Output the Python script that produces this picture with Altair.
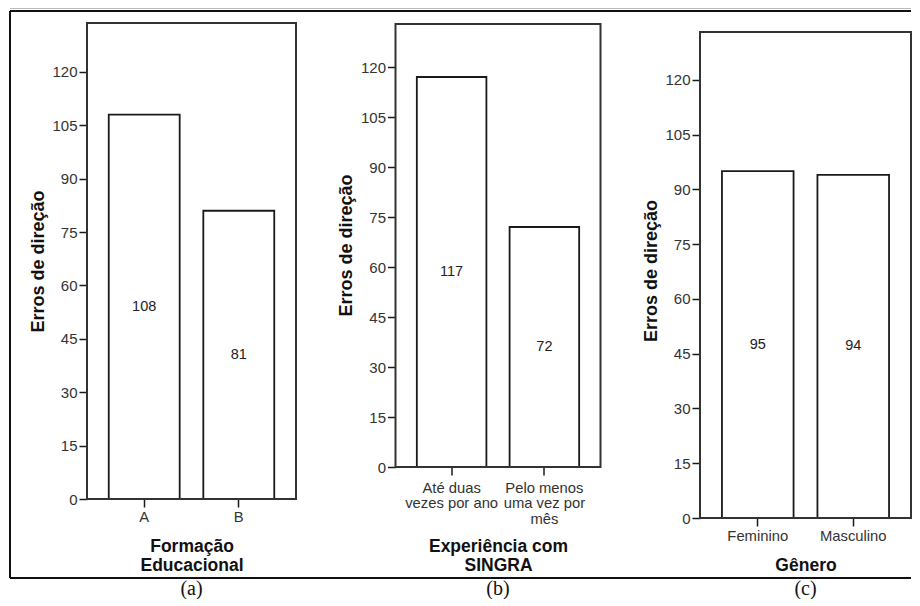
import altair as alt
import pandas as pd

# ---- data ----
cat_a = ["A", "B"]
val_a = [108, 81]
cat_b = ["Até duas vezes por ano", "Pelo menos uma vez por mês"]
lines_b = [["Até duas", "vezes por ano"], ["Pelo menos", "uma vez por", "mês"]]
val_b = [117, 72]
cat_c = ["Feminino", "Masculino"]
val_c = [95, 94]
y_ticks = [0, 15, 30, 45, 60, 75, 90, 105, 120]
y_title = "Erros de direção"
x_title_a = ["Formação", "Educacional"]
x_title_b = ["Experiência com", "SINGRA"]
x_title_c = "Gênero"
tags = ["(a)", "(b)", "(c)"]

FONT = "Liberation Sans"
SERIF = "Liberation Serif"
INK = "#1a1a1a"


def panel(cats, vals, W, H, ymax, frame_top, xtitle, title_y, tag,
          label_expr=None, label_pad=2, extra=None):
    df = pd.DataFrame({"cat": cats, "v": vals})
    yscale = alt.Scale(domain=[0, ymax], nice=False, zero=True)
    xscale = alt.Scale(domain=cats, paddingInner=0.25, paddingOuter=0.23)
    xaxis_kw = dict(
        title=xtitle, labelAngle=0, tickSize=8, tickWidth=1.5, tickColor=INK,
        labelPadding=label_pad, domain=False, grid=False,
        labelFont=FONT, labelFontSize=14.8, labelColor="#333",
        labelLineHeight=15.5,
        titleFont=FONT, titleFontSize=17.5, titleFontWeight="bold",
        titleColor="#111", titleY=title_y, titleBaseline="alphabetic",
        titleLineHeight=18.5,
    )
    if label_expr:
        xaxis_kw["labelExpr"] = label_expr
    xaxis = alt.Axis(**xaxis_kw)
    yaxis = alt.Axis(
        title=y_title, values=y_ticks, tickSize=8, tickWidth=1.5,
        tickColor=INK, labelPadding=2, domain=False, grid=False,
        labelFont=FONT, labelFontSize=15, labelColor="#333",
        titleFont=FONT, titleFontSize=18, titleFontWeight="bold",
        titleColor="#111", titleX=-49, titleBaseline="middle", titleAngle=270,
    )
    base = alt.Chart(df)
    bars = base.mark_bar(fill="white", stroke=INK, strokeWidth=1.8).encode(
        x=alt.X("cat:N", scale=xscale, axis=xaxis, sort=cats),
        y=alt.Y("v:Q", scale=yscale, axis=yaxis),
    )
    labels = base.transform_calculate(mid="datum.v / 2").mark_text(
        font=FONT, fontSize=14.5, color="#222", baseline="middle"
    ).encode(
        x=alt.X("cat:N", scale=xscale, sort=cats),
        y=alt.Y("mid:Q", scale=yscale),
        text=alt.Text("v:Q"),
    )
    one = alt.Data(values=[{}])
    frame = alt.Chart(one).mark_rect(
        fill="white", fillOpacity=0, stroke="#333", strokeWidth=2
    ).encode(
        x=alt.value(0), x2=alt.value(W),
        y=alt.Y(datum=frame_top, type="quantitative", scale=yscale),
        y2=alt.datum(0),
    )
    tagtext = alt.Chart(one).mark_text(
        text=tag, font=SERIF, fontSize=20, color="#111", baseline="middle",
        align="center"
    ).encode(x=alt.value(W / 2), y=alt.value(566))
    layers = [bars, labels, frame, tagtext]
    if extra:
        layers += extra
    return alt.layer(*layers).properties(width=W, height=H)


# outer figure frame (decoration, drawn relative to panel a)
one = alt.Data(values=[{}])
outer = [
    alt.Chart(one).mark_rule(color="#bbbbbb", strokeWidth=1).encode(
        x=alt.value(-77), x2=alt.value(824), y=alt.value(-14.5)),
    alt.Chart(one).mark_rule(color="#111", strokeWidth=2).encode(
        x=alt.value(-77), x2=alt.value(824), y=alt.value(-12)),
    alt.Chart(one).mark_rule(color="#111", strokeWidth=2).encode(
        x=alt.value(-77), x2=alt.value(824), y=alt.value(555)),
    alt.Chart(one).mark_rule(color="#111", strokeWidth=2).encode(
        x=alt.value(-77), y=alt.value(-12), y2=alt.value(555)),
]

expr_b = "datum.value == '%s' ? [%s] : [%s]" % (
    cat_b[0],
    ", ".join("'%s'" % s for s in lines_b[0]),
    ", ".join("'%s'" % s for s in lines_b[1]),
)

pa = panel(cat_a, val_a, 209, 476, 133.77, 133.77, x_title_a, 52.5, tags[0],
           extra=outer)
pb = panel(cat_b, val_b, 205, 444, 133.2, 132.9, x_title_b, 84.5, tags[1],
           label_expr=expr_b, label_pad=5)
pc = panel(cat_c, val_c, 211, 495, 135.6, 133.15, x_title_c, 52.5, tags[2])

chart = alt.hconcat(pa, pb, pc, spacing=99.5, bounds="flush").properties(
    padding={"left": 1, "top": 0, "right": 0, "bottom": 0},
    background="white",
).configure_view(strokeWidth=0)

chart.save("out.html", embed_options={"renderer": "svg", "actions": False})
